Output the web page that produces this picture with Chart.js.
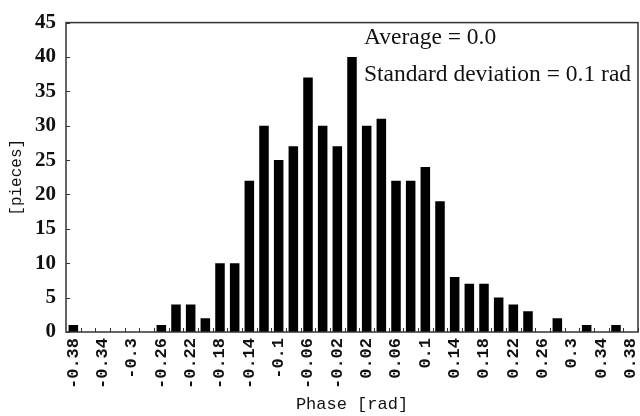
<!DOCTYPE html>
<html>
<head>
<meta charset="utf-8">
<script src="https://cdn.jsdelivr.net/npm/chart.js@4/dist/chart.umd.min.js"></script>
<style>
  html, body { margin: 0; padding: 0; background: #fff; }
  #wrap { width: 640px; height: 416px; }
</style>
</head>
<body>
<div id="wrap"><canvas id="chart" width="640" height="416"></canvas></div>
<script>
// phase bins, step 0.02 rad
const phases = ['-0.38', '-0.36', '-0.34', '-0.32', '-0.3', '-0.28', '-0.26', '-0.24', '-0.22', '-0.2',
  '-0.18', '-0.16', '-0.14', '-0.12', '-0.1', '-0.08', '-0.06', '-0.04', '-0.02', '0',
  '0.02', '0.04', '0.06', '0.08', '0.1', '0.12', '0.14', '0.16', '0.18', '0.2',
  '0.22', '0.24', '0.26', '0.28', '0.3', '0.32', '0.34', '0.36', '0.38'];
const pieces = [1, 0, 0, 0, 0, 0, 1, 4, 4, 2,
  10, 10, 22, 30, 25, 27, 37, 30, 27, 40,
  30, 31, 22, 22, 24, 19, 8, 7, 7, 5,
  4, 3, 0, 2, 0, 1, 0, 1, 0];
const yTicks = [0, 5, 10, 15, 20, 25, 30, 35, 40, 45];
const notes = ['Average = 0.0', 'Standard deviation = 0.1 rad'];

// box round the plot plus small inward tick marks
const frame = {
  id: 'frame',
  afterDraw(chart) {
    const { ctx, chartArea: a, scales } = chart;
    ctx.save();
    ctx.strokeStyle = '#333';
    ctx.lineWidth = 1.5;
    ctx.strokeRect(a.left, a.top, a.right - a.left, a.bottom - a.top);

    ctx.lineWidth = 1;
    ctx.beginPath();
    const x = scales.x;
    const half = (x.getPixelForValue(1) - x.getPixelForValue(0)) / 2;
    for (let i = 0; i < phases.length; i++) {
      const px = Math.round(x.getPixelForValue(i) + half) + 0.5;
      ctx.moveTo(px, a.bottom);
      ctx.lineTo(px, a.bottom - 4);
    }
    yTicks.forEach(v => {
      const py = Math.round(scales.y.getPixelForValue(v)) + 0.5;
      ctx.moveTo(a.left, py);
      ctx.lineTo(a.left + 4, py);
    });
    ctx.stroke();

    ctx.fillStyle = '#111';
    ctx.font = '23.5px "Liberation Serif", serif';
    ctx.textAlign = 'left';
    ctx.textBaseline = 'alphabetic';
    ctx.fillText(notes[0], a.left + 298, 44);
    ctx.fillText(notes[1], a.left + 298, 81);
    ctx.restore();
  }
};

new Chart(document.getElementById('chart'), {
  type: 'bar',
  data: {
    labels: phases,
    datasets: [{
      data: pieces,
      backgroundColor: '#000',
      borderWidth: 0,
      barPercentage: 0.65,
      categoryPercentage: 1.0
    }]
  },
  options: {
    responsive: false,
    animation: false,
    layout: { padding: { top: 17, right: 2, left: 0, bottom: 0 } },
    plugins: { legend: { display: false }, tooltip: { enabled: false } },
    scales: {
      x: {
        grid: { display: false, drawTicks: false },
        border: { display: false },
        afterFit: s => { s.height = 84; s.paddingLeft = 0; s.paddingRight = 0; },
        ticks: {
          autoSkip: false,
          minRotation: 90,
          maxRotation: 90,
          padding: 6,
          color: '#111',
          font: { family: '"Liberation Mono", monospace', size: 17, weight: 'bold' },
          callback: (v, i) => (i % 2 === 0 ? phases[i] : '')
        },
        title: {
          display: true,
          text: 'Phase [rad]',
          color: '#111',
          padding: { top: 0, bottom: 1 },
          font: { family: '"Liberation Mono", monospace', size: 17 }
        }
      },
      y: {
        min: 0,
        max: 45,
        grid: { display: false, drawTicks: false },
        border: { display: false },
        afterFit: s => { s.width = 66; },
        ticks: {
          stepSize: 5,
          padding: 10,
          color: '#111',
          font: { family: '"Liberation Serif", serif', size: 21, weight: 'bold' }
        },
        title: {
          display: true,
          text: '[pieces]',
          color: '#111',
          padding: { top: 7, bottom: 0 },
          font: { family: '"Liberation Mono", monospace', size: 16 }
        }
      }
    }
  },
  plugins: [frame]
});
</script>
</body>
</html>
